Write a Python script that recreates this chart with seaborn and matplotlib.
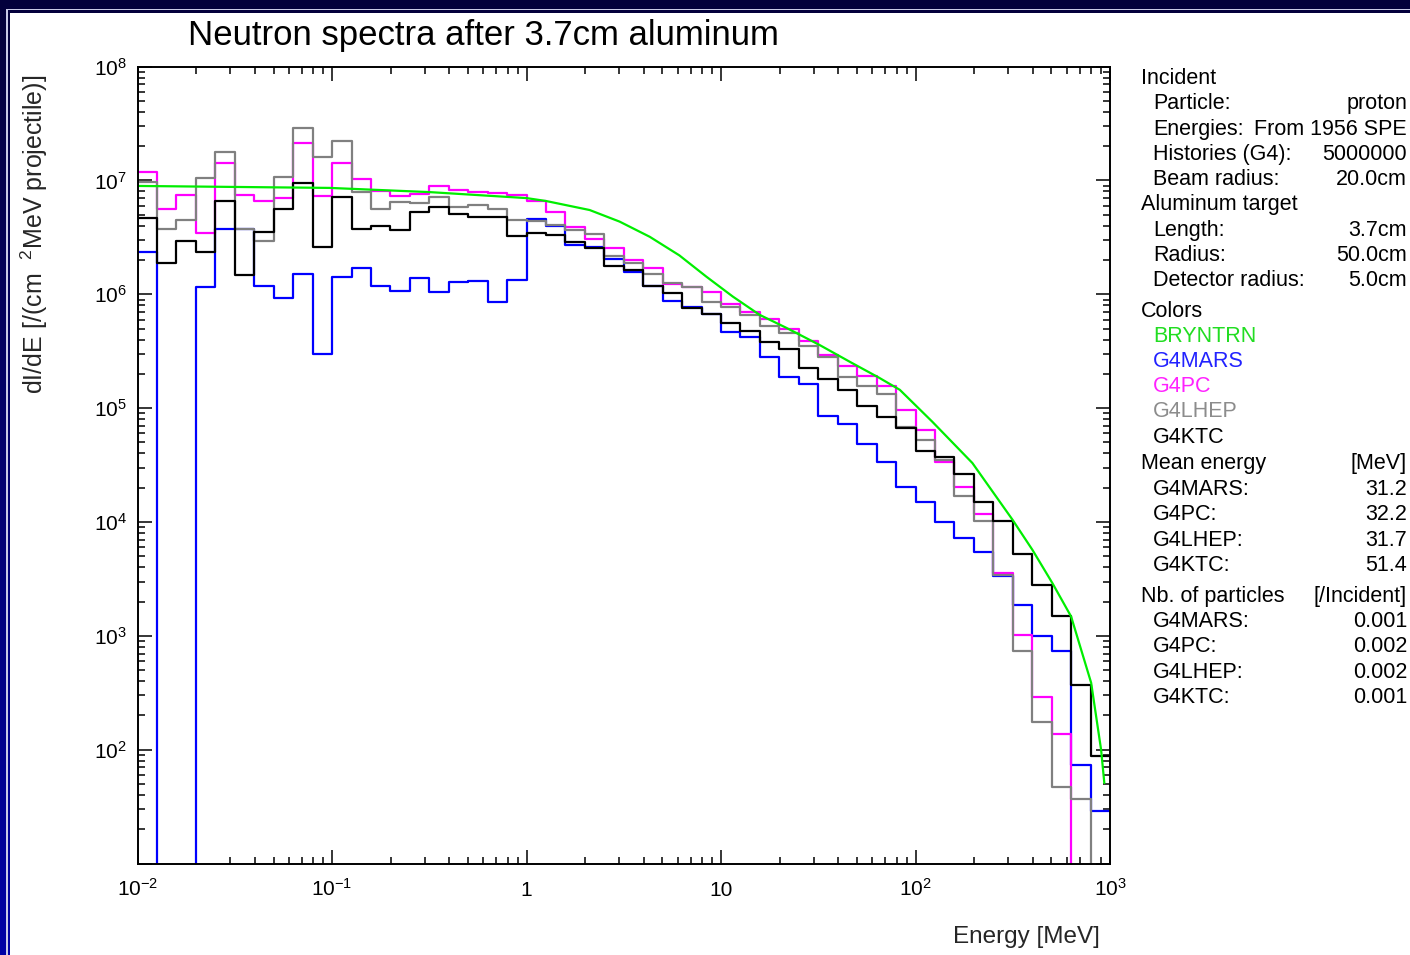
import numpy as np
import pandas as pd
import matplotlib
matplotlib.use("Agg")
import matplotlib.pyplot as plt
import seaborn as sns
from matplotlib.patches import Rectangle
from matplotlib.colors import LinearSegmentedColormap
from matplotlib.ticker import LogLocator, NullFormatter

# Energy binning: 10 logarithmic bins per decade, 10 keV .. 1 GeV
bin_edges = 10.0 ** np.linspace(-2, 3, 51)

# Neutron fluence per bin [1/(cm^2 MeV projectile)]
g4mars = [2.34e6, 0, 0, 1.17e6, 3.73e6, 3.73e6, 1.19e6, 9.25e5, 1.51e6, 2.98e5,
          1.43e6, 1.69e6, 1.19e6, 1.06e6, 1.40e6, 1.04e6, 1.29e6, 1.32e6, 8.53e5, 1.34e6,
          4.57e6, 3.99e6, 2.72e6, 2.59e6, 2.03e6, 1.58e6, 1.19e6, 8.81e5, 7.80e5, 6.73e5,
          4.71e5, 4.25e5, 2.80e5, 1.87e5, 1.63e5, 8.56e4, 7.28e4, 4.86e4, 3.34e4, 2.02e4,
          1.51e4, 1.01e4, 7.22e3, 5.51e3, 3.37e3, 1.85e3, 1.00e3, 740, 73.8, 29.1]
g4pc = [1.18e7, 5.59e6, 7.46e6, 3.48e6, 1.41e7, 7.46e6, 6.61e6, 6.98e6, 2.12e7, 7.31e6,
        1.43e7, 1.04e7, 8.09e6, 7.31e6, 7.66e6, 8.95e6, 8.26e6, 7.98e6, 7.72e6, 7.46e6,
        6.54e6, 5.32e6, 3.88e6, 3.05e6, 2.54e6, 2.00e6, 1.69e6, 1.23e6, 1.15e6, 1.04e6,
        8.19e5, 7.05e5, 6.04e5, 4.94e5, 3.90e5, 2.94e5, 2.33e5, 1.90e5, 1.58e5, 9.57e4,
        6.41e4, 3.38e4, 2.02e4, 1.17e4, 3.60e3, 1.02e3, 290, 138, 0, 0]
g4lhep = [9.64e6, 3.75e6, 4.50e6, 1.06e7, 1.78e7, 3.75e6, 2.96e6, 1.08e7, 2.87e7, 1.62e7,
          2.22e7, 7.98e6, 5.62e6, 6.52e6, 6.31e6, 7.21e6, 5.82e6, 6.10e6, 5.59e6, 4.46e6,
          4.41e6, 4.07e6, 3.68e6, 3.39e6, 2.17e6, 1.87e6, 1.51e6, 1.25e6, 1.15e6, 8.63e5,
          7.80e5, 6.59e5, 5.28e5, 4.55e5, 3.52e5, 2.79e5, 1.88e5, 1.58e5, 1.33e5, 6.85e4,
          5.22e4, 3.52e4, 1.71e4, 1.03e4, 3.44e3, 740, 177, 47, 36.9, 0]
g4ktc = [4.66e6, 1.87e6, 2.96e6, 2.34e6, 6.61e6, 1.48e6, 3.55e6, 5.62e6, 9.45e6, 2.62e6,
         7.12e6, 3.75e6, 3.99e6, 3.68e6, 5.26e6, 5.82e6, 5.08e6, 4.81e6, 4.75e6, 3.22e6,
         3.46e6, 3.32e6, 2.90e6, 2.54e6, 1.79e6, 1.64e6, 1.19e6, 1.02e6, 7.55e5, 6.73e5,
         5.65e5, 4.80e5, 3.80e5, 3.30e5, 2.24e5, 1.81e5, 1.45e5, 1.05e5, 8.34e4, 6.71e4,
         4.22e4, 3.70e4, 2.65e4, 1.51e4, 1.03e4, 5.26e3, 2.81e3, 1.51e3, 372, 88.5]

# BRYNTRN deterministic spectrum (smooth curve)
bryntrn_energy = [0.01, 0.0975, 0.318, 1.0, 1.26, 2.11, 3.01, 4.3, 6.1, 8.4, 11.5,
                  15.8, 21.7, 32, 47, 65, 83, 122, 196, 315, 399, 506, 631, 800, 900, 935]
bryntrn_flux = [8.95e6, 8.6e6, 7.9e6, 7.0e6, 6.6e6, 5.5e6, 4.35e6, 3.2e6, 2.2e6, 1.43e6,
                9.55e5, 6.6e5, 5.07e5, 3.6e5, 2.5e5, 1.85e5, 1.45e5, 7.6e4, 3.3e4, 1.05e4,
                5.7e3, 2.9e3, 1.48e3, 387, 100, 51]

series_names = ["G4MARS", "G4PC", "G4LHEP", "G4KTC"]
series_values = [g4mars, g4pc, g4lhep, g4ktc]
line_colors = {"BRYNTRN": "#00ee00", "G4MARS": "#0000ff", "G4PC": "#ff00ff",
               "G4LHEP": "#808080", "G4KTC": "#000000"}
text_colors = {"BRYNTRN": "#22dd22", "G4MARS": "#2222ff", "G4PC": "#ff22ff",
               "G4LHEP": "#8c8c8c", "G4KTC": "#000000"}

x_tick_values = [1e-2, 1e-1, 1, 10, 1e2, 1e3]
x_tick_labels = [r"$10^{-2}$", r"$10^{-1}$", "1", "10", r"$10^{2}$", r"$10^{3}$"]
y_tick_values = [1e1, 1e2, 1e3, 1e4, 1e5, 1e6, 1e7, 1e8]
y_tick_labels = ["", r"$10^{2}$", r"$10^{3}$", r"$10^{4}$", r"$10^{5}$",
                 r"$10^{6}$", r"$10^{7}$", r"$10^{8}$"]

mean_energy = {"G4MARS": "31.2", "G4PC": "32.2", "G4LHEP": "31.7", "G4KTC": "51.4"}
n_particles = {"G4MARS": "0.001", "G4PC": "0.002", "G4LHEP": "0.002", "G4KTC": "0.001"}

sns.set_style("ticks")
plt.rcParams.update({
    "font.family": ["Liberation Sans", "DejaVu Sans"],
    "mathtext.default": "regular",
    "axes.linewidth": 1.4,
    "axes.edgecolor": "black",
    "xtick.color": "black",
    "ytick.color": "black",
    "text.color": "black",
})

W, H = 1410.0, 955.0
fig = plt.figure(figsize=(W / 100, H / 100), dpi=100, facecolor="white")


def fx(px):
    return px / W


def fy(py):
    return 1.0 - py / H


# slide frame: gradient band on the left, dark band on top
frame_ax = fig.add_axes([0, 0, fx(10), 1])
frame_cmap = LinearSegmentedColormap.from_list("frame", ["#05003a", "#0000a6"])
frame_ax.imshow(np.linspace(0, 1, 256).reshape(-1, 1), aspect="auto", cmap=frame_cmap,
                extent=[0, 1, 0, 1], origin="upper")
frame_ax.axis("off")
fig.add_artist(Rectangle((fx(6), 0), 1.6 / W, fy(9), transform=fig.transFigure,
                         color="#c9c9e6", lw=0))
fig.add_artist(Rectangle((0, fy(9)), 1, 9 / H, transform=fig.transFigure,
                         color="#03003c", lw=0))
fig.add_artist(Rectangle((fx(6), fy(10.5)), 1, 1.5 / H, transform=fig.transFigure,
                         color="#c9c9e6", lw=0))
fig.add_artist(Rectangle((fx(8), fy(13)), 1, 2.5 / H, transform=fig.transFigure,
                         color="#03003c", lw=0))

# main axes
ax = fig.add_axes([fx(137.6), fy(863.6), (1110 - 137.6) / W, (863.6 - 66.6) / H])

rows = []
for name, vals in zip(series_names, series_values):
    v = np.asarray(vals, dtype=float)
    for e, val in zip(bin_edges, np.append(v, v[-1])):
        rows.append((name, e, val))
hist_df = pd.DataFrame(rows, columns=["code", "energy", "flux"])

sns.lineplot(data=hist_df, x="energy", y="flux", hue="code", hue_order=series_names,
             palette=line_colors, estimator=None, sort=False, drawstyle="steps-post",
             linewidth=1.6, legend=False, ax=ax)
sns.lineplot(x=bryntrn_energy, y=bryntrn_flux, color=line_colors["BRYNTRN"],
             linewidth=1.6, estimator=None, sort=False, ax=ax)

ax.set_xscale("log")
ax.set_yscale("log")
ax.set_xlim(1e-2, 1e3)
ax.set_ylim(10, 1e8)

ax.set_xticks(x_tick_values, x_tick_labels)
ax.set_yticks(y_tick_values, y_tick_labels)
ax.xaxis.set_minor_locator(LogLocator(base=10, subs=np.arange(2, 10), numticks=30))
ax.yaxis.set_minor_locator(LogLocator(base=10, subs=np.arange(2, 10), numticks=30))
ax.xaxis.set_minor_formatter(NullFormatter())
ax.yaxis.set_minor_formatter(NullFormatter())
ax.tick_params(which="both", direction="in", top=True, right=True, width=1.1)
ax.tick_params(which="major", length=10, labelsize=15)
ax.tick_params(which="minor", length=5)
ax.tick_params(axis="x", which="major", pad=23)
ax.tick_params(axis="y", which="major", pad=7.5)
for lab in ax.get_xticklabels():
    lab.set_verticalalignment("baseline")
ax.grid(False)
for side in ["left", "right", "top", "bottom"]:
    ax.spines[side].set_visible(True)
    ax.spines[side].set_linewidth(1.4)

ax.set_xlabel("Energy [MeV]", fontsize=17.5, loc="right")
ax.xaxis.set_label_coords((1100 - 137.6) / 972.4, -(926 - 863.6) / 797)
ax.set_ylabel(r"dI/dE [/(cm  $^{2}$MeV projectile)]", fontsize=18, loc="top")
ax.yaxis.set_label_coords(-(137.6 - 50) / 972.4, (863.6 - 75) / 797)
ax.set_title("Neutron spectra after 3.7cm aluminum", loc="left", fontsize=25, pad=0,
             x=(188 - 137.6) / 972.4, y=(863.6 - 45) / 797)

# run description panel
panel = [
    ("Incident", "", "head", None, 84),
    ("Particle:", "proton", "item", None, 109),
    ("Energies:", "From 1956 SPE", "item", None, 135),
    ("Histories (G4):", "5000000", "item", None, 160),
    ("Beam radius:", "20.0cm", "item", None, 185),
    ("Aluminum target", "", "head", None, 210),
    ("Length:", "3.7cm", "item", None, 236),
    ("Radius:", "50.0cm", "item", None, 261),
    ("Detector radius:", "5.0cm", "item", None, 286),
    ("Colors", "", "head", None, 317),
    ("BRYNTRN", "", "item", "BRYNTRN", 342),
    ("G4MARS", "", "item", "G4MARS", 367),
    ("G4PC", "", "item", "G4PC", 392),
    ("G4LHEP", "", "item", "G4LHEP", 417),
    ("G4KTC", "", "item", "G4KTC", 443),
    ("Mean energy", "[MeV]", "head", None, 469),
]
base = 495
for i, name in enumerate(series_names):
    panel.append((name + ":", mean_energy[name], "item", None, base + 25.3 * i))
panel.append(("Nb. of particles", "[/Incident]", "head", None, 602))
base = 627
for i, name in enumerate(series_names):
    panel.append((name + ":", n_particles[name], "item", None, base + 25.3 * i))

for label, value, kind, color_key, yb in panel:
    xl = 1141 if kind == "head" else 1153
    col = text_colors[color_key] if color_key else "black"
    fig.text(fx(xl), fy(yb), label, fontsize=15.5, color=col, ha="left", va="baseline")
    if value:
        fig.text(fx(1407), fy(yb), value, fontsize=15.5, color="black", ha="right",
                 va="baseline")

fig.savefig("out.png", dpi=100, facecolor="white")
